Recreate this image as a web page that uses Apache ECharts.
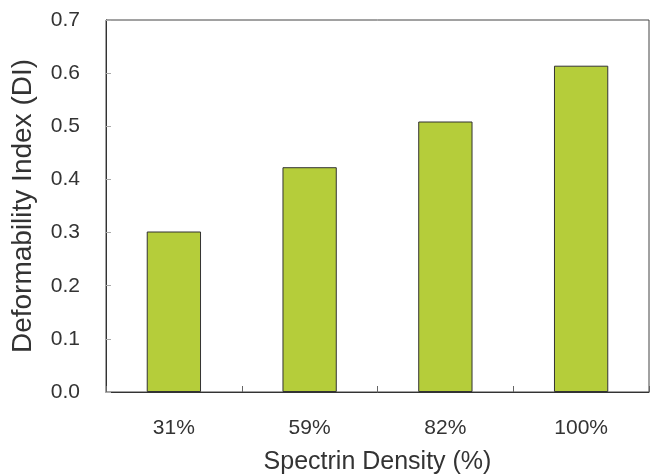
<!DOCTYPE html>
<html>
<head>
<meta charset="utf-8">
<script src="https://cdn.jsdelivr.net/npm/echarts@6/dist/echarts.min.js"></script>
<style>html,body{margin:0;padding:0;background:#fff;}#c{width:652px;height:476px;}</style>
</head>
<body>
<div id="c"></div>
<script>
var categories = ['31%', '59%', '82%', '100%'];
var diValues = [0.302, 0.423, 0.509, 0.614];
var yTicks = [0, 0.1, 0.2, 0.3, 0.4, 0.5, 0.6, 0.7];

var chart = echarts.init(document.getElementById('c'), null, {renderer: 'canvas'});
var font = 'Liberation Sans, Arial, sans-serif';
chart.setOption({
  animation: false,
  backgroundColor: '#fff',
  grid: {left: 106, right: 3, top: 20, bottom: 84, outerBoundsMode: 'none', containLabel: false,
    show: true, borderColor: '#444', borderWidth: 1, backgroundColor: 'transparent'},
  xAxis: {
    type: 'category',
    data: categories,
    name: 'Spectrin Density (%)',
    nameLocation: 'middle',
    nameGap: 58,
    nameTextStyle: {fontFamily: font, fontSize: 25, color: '#333'},
    axisLine: {show: true, lineStyle: {color: '#333', width: 1}},
    axisTick: {show: true, inside: true, length: 6, lineStyle: {color: '#666'}},
    axisLabel: {fontFamily: font, fontSize: 21, color: '#333', margin: 26}
  },
  yAxis: {
    type: 'value',
    min: 0, max: 0.7, interval: 0.1,
    name: 'Deformability Index (DI)',
    nameLocation: 'middle',
    nameGap: 69,
    nameTextStyle: {fontFamily: font, fontSize: 28, color: '#333'},
    axisLine: {show: true, lineStyle: {color: '#333', width: 1}},
    axisTick: {show: true, inside: true, length: 5, lineStyle: {color: '#aaa'}},
    splitLine: {show: false},
    axisLabel: {fontFamily: font, fontSize: 21, color: '#333', margin: 26,
      formatter: function (v) { return v.toFixed(1); }}
  },
  series: [{
    type: 'bar',
    data: diValues,
    barWidth: '40%',
    itemStyle: {color: '#b5cd3a', borderColor: '#333', borderWidth: 1}
  }]
});
</script>
</body>
</html>
